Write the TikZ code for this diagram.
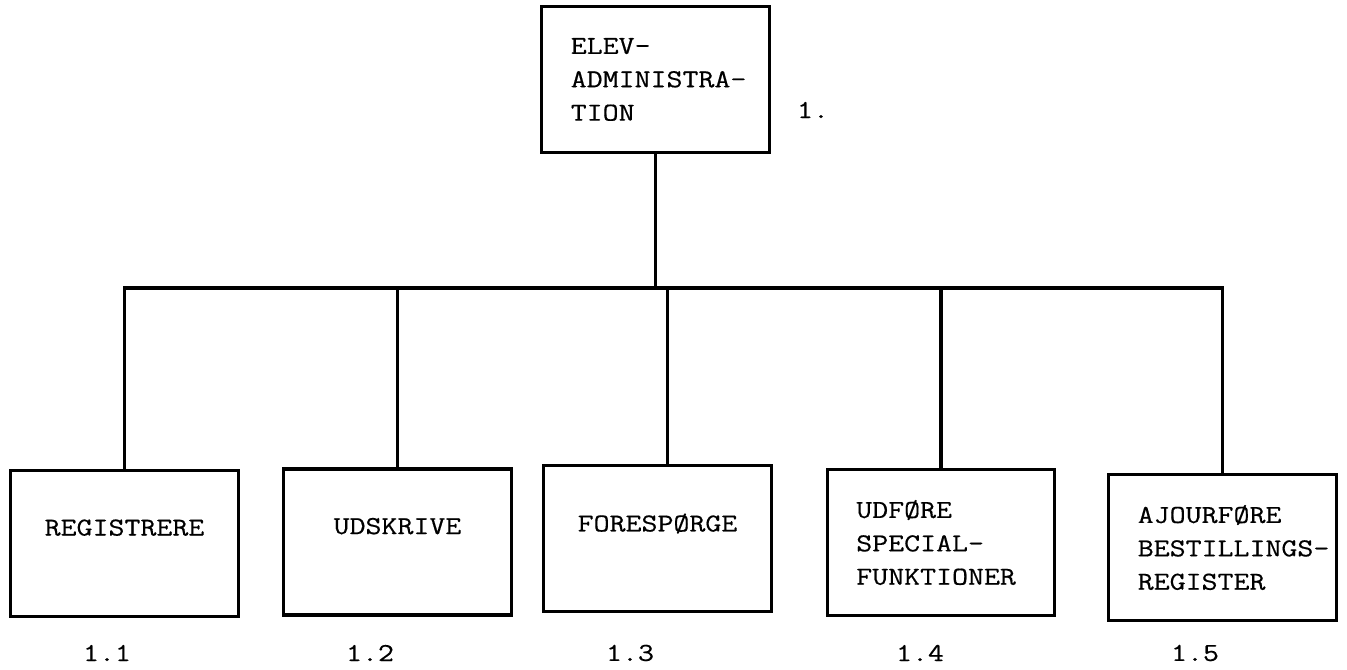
\documentclass[tikz,border=0pt]{standalone}
\usepackage{fontspec}
\newfontfamily\typewriter[FakeStretch=1.2,FakeBold=0.5]{Latin Modern Mono}
\newcommand\diagfont{\typewriter\fontsize{14.7}{19}\selectfont\hyphenpenalty=10000 \exhyphenpenalty=10000 }
\tikzset{
  box/.style={draw, line width=1.9pt, minimum width=4.55cm, minimum height=2.92cm, font=\diagfont},
  listbox/.style={box, text width=3.39cm, inner xsep=0.58cm, align=left},
  onebox/.style={box, text depth=0.64cm},
  nr/.style={font=\diagfont},
  link/.style={line width=1.9pt}
}
\begin{document}
\begin{tikzpicture}
\useasboundingbox (0,0) rectangle (26.94,13.4);
\node[listbox] (elev) at (13.11,11.81) {ELEV-\\ADMINISTRA-\\TION};
\node[nr] (n1) at (16.26,11.2) {1.};
\coordinate (bus) at (13.11,7.64);
\node[onebox] (reg) at (2.49,2.53) {REGISTRERE};
\node[onebox] (uds) at (7.95,2.56) {UDSKRIVE};
\node[onebox] (for) at (13.15,2.63) {FORESPØRGE};
\node[listbox] (spec) at (18.82,2.55) {UDFØRE\\SPECIAL-\\FUNKTIONER};
\node[listbox] (ajour) at (24.45,2.45) {AJOURFØRE\\BESTILLINGS-\\REGISTER};
\node[nr] (n11) at (2.14,0.34) {1.1};
\node[nr] (n12) at (7.4,0.34) {1.2};
\node[nr] (n13) at (12.6,0.34) {1.3};
\node[nr] (n14) at (18.4,0.34) {1.4};
\node[nr] (n15) at (23.9,0.34) {1.5};
\draw[link] (elev.south) -- (bus);
\draw[link] (reg.north) -- (reg.north |- bus) -- (ajour.north |- bus) -- (ajour.north);
\draw[link] (uds.north) -- (uds.north |- bus);
\draw[link] ([xshift=0.2cm]for.north) -- ([xshift=0.2cm]for.north |- bus);
\draw[link] (spec.north) -- (spec.north |- bus);
\end{tikzpicture}
\end{document}
